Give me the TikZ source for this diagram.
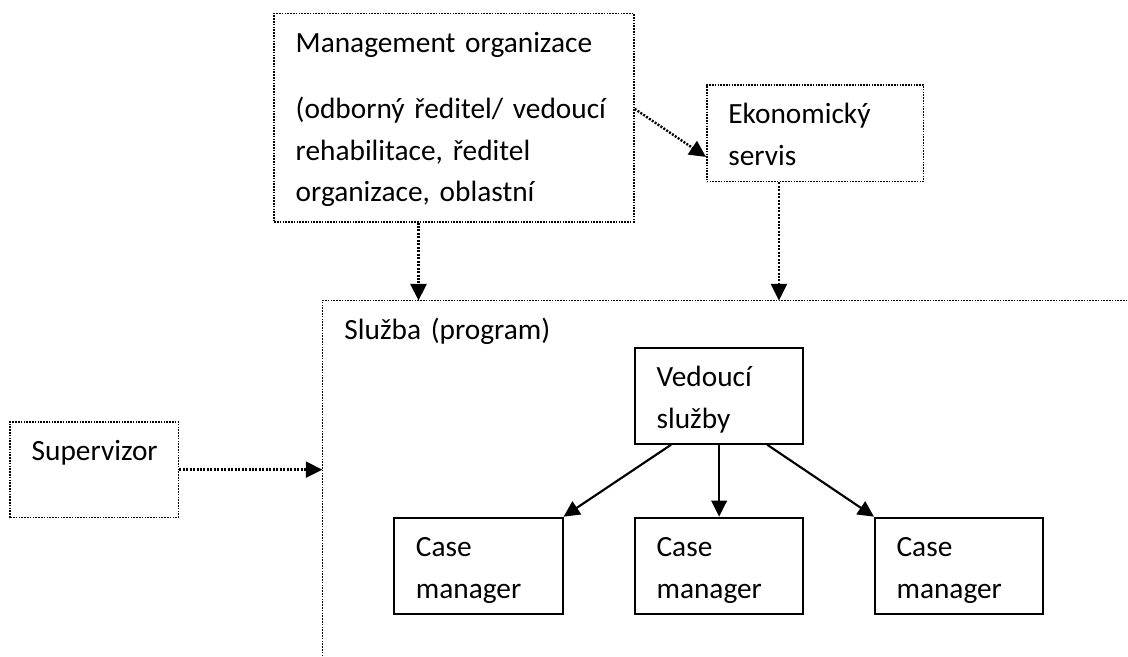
\documentclass[tikz,border=0pt]{standalone}
\usepackage{fontspec}
\setmainfont{Carlito}
\usetikzlibrary{arrows.meta}
\hyphenpenalty=10000

\begin{document}
\begin{tikzpicture}[x=0.375pt,y=-0.375pt,
	box/.style={rectangle,anchor=north west,inner xsep=8.1pt,inner ysep=0pt,align=left,text height=14.5pt,font=\fontsize{11}{15.64}\selectfont},
	dotline/.style={line width=0.6pt,dash pattern=on 0.6pt off 0.45pt},
	dotbox/.style={box,draw,dotline},
	solidbox/.style={box,draw,line width=0.75pt},
	dotarrow/.style={line width=0.9pt,dash pattern=on 0.75pt off 0.55pt,-{Triangle[length=6.2pt,width=6pt]}},
	solidarrow/.style={line width=0.8pt,-{Triangle[length=6pt,width=5.8pt]}}]
\useasboundingbox (0,0) rectangle (1128,657);
\clip (0,0) rectangle (1128,657);
\node[dotbox,minimum width=134.9pt,text width=118.7pt,text depth=63.6pt] (mgmt) at (273.3,12.7) {Management organizace\\[9.2pt]{(odborný} ředitel/ vedoucí\\rehabilitace, ředitel\\organizace, oblastní};
\node[dotbox,minimum width=81.3pt,text width=65.1pt,text depth=21.8pt] (eko) at (706,84) {Ekonomický\\servis};
\node[box,minimum width=330pt,text width=313.8pt,text depth=150pt] (svc) at (322.3,300.5) {Služba (program)};
\draw[dotline] (svc.south west) -- (svc.north west) -- (svc.north east);
\node[dotbox,minimum width=63.1pt,text width=46.9pt,text depth=21.4pt] (sup) at (9.3,421) {Supervizor};
\node[solidbox,minimum width=63.1pt,text width=46.9pt,text depth=21.5pt] (ved) at (634,346.7) {Vedoucí\\služby};
\node[solidbox,minimum width=63.1pt,text width=46.9pt,text depth=21.5pt] (cm1) at (393.3,516.7) {Case\\manager};
\node[solidbox,minimum width=63.1pt,text width=46.9pt,text depth=21.5pt] (cm2) at (634,516.7) {Case\\manager};
\node[solidbox,minimum width=63.1pt,text width=46.9pt,text depth=21.5pt] (cm3) at (874,516.7) {Case\\manager};
\coordinate (m1) at ([xshift=-13.3pt]mgmt.south);
\coordinate (e1) at ([xshift=-13.6pt]eko.south);
\draw[dotarrow] (m1) -- (m1 |- svc.north);
\draw[dotarrow] (e1) -- (e1 |- svc.north);
\draw[dotarrow] ([yshift=3.3pt]mgmt.east) -- ([yshift=-8.9pt]eko.west);
\draw[dotarrow] (sup.east) -- (sup.east -| svc.west);
\draw[solidarrow] ([xshift=-18pt]ved.south) -- (cm1.north east);
\draw[solidarrow] (ved.south) -- (cm2.north);
\draw[solidarrow] ([xshift=18pt]ved.south) -- (cm3.north west);
\end{tikzpicture}
\end{document}
